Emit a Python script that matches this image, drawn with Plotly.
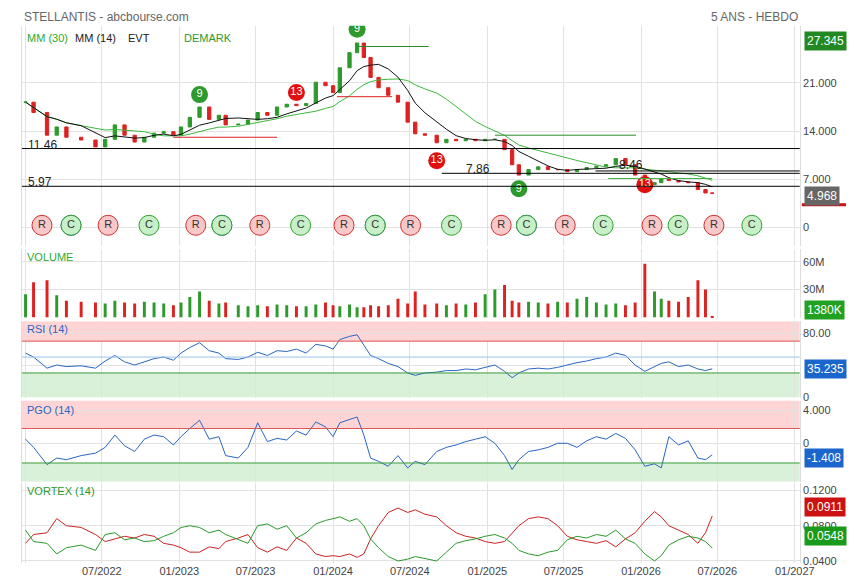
import plotly.graph_objects as go
import pandas as pd

dates = ["2022-01-01","2022-01-20","2022-02-21","2022-03-16","2022-04-08","2022-05-13","2022-06-16","2022-07-09","2022-08-01","2022-08-24","2022-09-17","2022-10-10","2022-11-02","2022-11-25","2022-12-18",
 "2023-01-05","2023-01-26","2023-02-18","2023-03-13","2023-04-05","2023-04-21","2023-05-21","2023-06-13","2023-07-06","2023-07-29","2023-08-21","2023-09-13","2023-10-06","2023-10-29","2023-11-21","2023-12-14",
 "2024-01-01","2024-01-17","2024-02-09","2024-02-27","2024-03-14","2024-03-30","2024-04-18","2024-05-11","2024-06-03","2024-06-26","2024-07-14","2024-08-06","2024-09-03","2024-09-26","2024-10-19","2024-11-11","2024-12-04","2024-12-27",
 "2025-01-19","2025-02-11","2025-03-01","2025-03-17","2025-04-09","2025-05-02","2025-05-25","2025-06-17","2025-07-10","2025-08-02","2025-08-25","2025-09-17","2025-10-10","2025-11-02","2025-11-25","2025-12-18",
 "2026-01-10","2026-02-02","2026-02-18","2026-03-08","2026-03-31","2026-04-23","2026-05-16","2026-06-03","2026-06-19"]
close = [18.2,16.7,13.4,14.6,13.1,12.7,11.7,12.8,14.9,13.4,12.4,13.1,13.7,13.9,13.4,
 14.6,16.0,17.5,15.7,16.3,14.9,15.0,15.6,16.7,16.3,17.5,17.9,17.7,18.0,21.1,20.6,
 19.6,23.2,25.4,26.8,24.7,21.8,20.3,19.2,18.2,15.3,13.6,13.4,12.3,12.8,12.6,12.8,12.6,12.8,
 12.8,11.3,9.1,7.6,8.4,8.8,8.4,8.4,8.1,8.4,8.7,8.9,9.1,10.0,9.1,7.6,
 6.2,6.5,7.1,6.8,6.6,6.5,5.5,5.0,4.968]
volume = [25,38,40,24,18,17,16,15,18,16,15,17,16,15,13,
 16,22,28,18,15,16,13,12,13,12,14,13,12,12,14,16,
 13,12,14,11,11,13,12,13,20,15,28,14,15,13,15,14,16,25,
 30,35,18,16,17,16,15,17,16,20,22,16,14,15,13,16,
 58,28,20,18,17,22,40,30,1.4]
rsi = [55,50,36,40,38,39,36,45,52,44,40,44,48,50,46,
 55,62,68,58,55,48,47,50,56,52,58,57,60,55,66,64,
 60,72,76,78,65,52,48,42,38,30,27,30,31,33,33,35,34,37,
 40,32,24,30,35,36,35,37,40,43,45,48,50,55,52,40,
 32,38,42,44,38,40,35,33,35.235]
pgo = [0.5,-0.5,-2.6,-1.8,-2.0,-1.5,-1.2,-0.5,1.0,-0.3,-1.0,0.5,1.0,0.8,-0.2,
 0.8,1.8,2.8,0.5,0.8,-1.5,-1.8,-0.5,2.5,0.2,0.6,0.4,1.5,1.0,2.6,2.0,
 0.8,2.5,2.9,3.2,1.0,-1.8,-2.2,-2.8,-1.5,-3.0,-2.2,-2.6,-1.0,-0.5,-0.2,0.2,0.5,0.8,
 0.0,-1.5,-3.2,-2.0,-1.0,-0.8,-0.5,0.0,0.0,-0.5,0.3,0.8,0.5,1.2,0.6,-0.8,
 -2.8,-2.5,-3.0,0.8,-0.2,0.3,-1.8,-2.0,-1.408]
vortex_red = [0.060,0.070,0.072,0.088,0.080,0.078,0.070,0.062,0.065,0.068,0.066,0.070,0.068,0.060,0.058,
 0.055,0.050,0.050,0.056,0.054,0.062,0.066,0.070,0.055,0.050,0.056,0.052,0.066,0.060,0.048,0.045,
 0.046,0.045,0.048,0.044,0.048,0.065,0.080,0.095,0.100,0.095,0.098,0.093,0.090,0.080,0.072,0.068,0.066,0.062,
 0.060,0.062,0.072,0.080,0.088,0.090,0.088,0.080,0.068,0.064,0.062,0.060,0.063,0.056,0.065,0.072,
 0.085,0.096,0.090,0.080,0.075,0.070,0.060,0.072,0.0911]
vortex_green = [0.075,0.062,0.060,0.048,0.055,0.058,0.052,0.070,0.072,0.064,0.066,0.062,0.063,0.068,0.072,
 0.078,0.080,0.078,0.072,0.075,0.070,0.064,0.060,0.080,0.082,0.076,0.080,0.066,0.072,0.082,0.086,
 0.088,0.090,0.085,0.088,0.080,0.065,0.055,0.045,0.040,0.042,0.045,0.043,0.040,0.050,0.060,0.063,0.065,0.068,
 0.070,0.066,0.060,0.052,0.048,0.046,0.050,0.052,0.064,0.068,0.066,0.070,0.068,0.075,0.065,0.060,
 0.048,0.040,0.046,0.058,0.064,0.068,0.066,0.062,0.0548]
event_dates = ["2022-02-09","2022-04-19","2022-07-16","2022-10-21","2023-02-09","2023-04-12","2023-07-11","2023-10-16",
 "2024-01-27","2024-04-10","2024-07-03","2024-10-08","2025-02-03","2025-04-04","2025-07-05","2025-10-03",
 "2026-01-27","2026-03-30","2026-06-23","2026-09-21"]
event_types = ["R","C","R","C","R","C","R","C","R","C","R","C","R","C","R","C","R","C","R","C"]
event_blue = [False,True,False,False,False,True,False,False,False,True,False,False,False,True,False,False,False,False,False,False]
demark_dates = ["2023-02-18","2024-02-27","2025-03-17","2023-10-06","2024-09-03","2026-01-10"]
demark_vals = [19.3,28.8,5.6,19.6,9.7,6.2]
demark_text = ["9","9","9","13","13","13"]
levels = [11.46, 5.97]

W, H = 855, 579
GREEN, RED = "#2e9a2e", "#dd2222"
opens = [close[0]] + close[:-1]
highs = [max(o, c) for o, c in zip(opens, close)]
lows = [min(o, c) for o, c in zip(opens, close)]
s = pd.Series(close)
mm14 = s.rolling(6, min_periods=1).mean()
mm30 = s.rolling(12, min_periods=1).mean()

def dom(top, bot):
    return [1 - bot / H, 1 - top / H]

xd = [14 / W, 806 / W]
fig = go.Figure()
panels = [("y", dom(18, 240), [-2.7, 29.3]), ("y2", dom(243, 313), [-1, 74]),
          ("y3", dom(316, 393), [-1, 95]), ("y4", dom(396, 478), [-4.7, 5.2]),
          ("y5", dom(479, 560), [0.0375, 0.1286])]

fig.add_trace(go.Candlestick(x=dates, open=opens, high=highs, low=lows, close=close,
    increasing=dict(line=dict(color=GREEN, width=1), fillcolor=GREEN),
    decreasing=dict(line=dict(color=RED, width=1), fillcolor=RED), yaxis="y", showlegend=False))
fig.add_trace(go.Scatter(x=dates, y=mm30, mode="lines", line=dict(color="#3cb83c", width=1), yaxis="y"))
fig.add_trace(go.Scatter(x=dates, y=mm14, mode="lines", line=dict(color="#111", width=1), yaxis="y"))
vcol = [GREEN if c >= o else RED for o, c in zip(opens, close)]
fig.add_trace(go.Bar(x=dates, y=volume, marker_color=vcol, marker_line_width=0, yaxis="y2", width=86400000 * 7))
fig.add_trace(go.Scatter(x=dates, y=rsi, mode="lines", line=dict(color="#2a66c0", width=1), yaxis="y3"))
fig.add_trace(go.Scatter(x=dates, y=pgo, mode="lines", line=dict(color="#2a66c0", width=1), yaxis="y4"))
fig.add_trace(go.Scatter(x=dates, y=vortex_red, mode="lines", line=dict(color="#cc2222", width=1), yaxis="y5"))
fig.add_trace(go.Scatter(x=dates, y=vortex_green, mode="lines", line=dict(color="#2a9a2a", width=1), yaxis="y5"))

bl = [d for d, b in zip(event_dates, event_blue) if b]
fig.add_trace(go.Scatter(x=bl, y=[0.3] * len(bl), mode="markers", yaxis="y",
    marker=dict(size=20, color="#c8d0f8", line=dict(color="#3040c0", width=1))))
fig.add_trace(go.Scatter(x=event_dates, y=[0.3] * len(event_dates), mode="markers+text", yaxis="y",
    text=event_types, textfont=dict(size=11, color="#333"),
    marker=dict(size=20, color=["#f8c8c8" if t == "R" else "#c8f0c8" for t in event_types],
                line=dict(color=["#d03030" if t == "R" else "#30a030" for t in event_types], width=1))))
fig.add_trace(go.Scatter(x=demark_dates, y=demark_vals, mode="markers+text", yaxis="y",
    text=demark_text, textfont=dict(size=11, color="white"),
    marker=dict(size=17, color=[GREEN, GREEN, GREEN, "#e01010", "#e01010", "#e01010"])))

lay = dict(width=W, height=H, margin=dict(l=0, r=0, t=0, b=0), showlegend=False,
           plot_bgcolor="white", paper_bgcolor="white", font=dict(family="Arial, Liberation Sans", size=11, color="#333"),
           xaxis=dict(domain=xd, type="date", range=["2021-12-23", "2027-01-13"], anchor="y5",
                      dtick="M6", tick0="2022-01-01", tickformat="%m/%Y", showgrid=True, gridcolor="#e2e2e2",
                      rangeslider=dict(visible=False), ticks="", tickfont=dict(size=11, color="#444"), showline=False))
for i, (name, d, r) in enumerate(panels):
    key = "yaxis" if i == 0 else "yaxis%d" % (i + 1)
    lay[key] = dict(domain=d, range=r, side="right", anchor="x", showgrid=True, gridcolor="#e2e2e2",
                    zeroline=False, tickfont=dict(size=11, color="#444"), ticks="", fixedrange=True,
                    showline=True, linecolor="#dddddd", mirror=True)
lay["yaxis"].update(tickvals=[0, 7, 14, 21], ticktext=["0", "7.000", "14.000", "21.000"])
lay["yaxis2"].update(tickvals=[0, 30, 60], ticktext=["", "30M", "60M"])
lay["yaxis3"].update(tickvals=[0, 40, 80], ticktext=["0", "", "80.00"])
lay["yaxis4"].update(tickvals=[0, 4], ticktext=["0", "4.000"])
lay["yaxis5"].update(tickvals=[0.04, 0.08, 0.12], ticktext=["0.0400", "0.0800", "0.1200"])
fig.update_layout(**lay)

def hline(y, yref, color, x0="2021-12-23", x1="2027-01-13", w=1):
    fig.add_shape(type="line", xref="x", yref=yref, x0=x0, x1=x1, y0=y, y1=y, line=dict(color=color, width=w))

def band(y0, y1, yref, color):
    fig.add_shape(type="rect", xref="x", yref=yref, x0="2021-12-23", x1="2027-01-13", y0=y0, y1=y1,
                  fillcolor=color, line_width=0, layer="below")

band(70, 95, "y3", "rgba(255,160,160,0.45)"); band(-1, 30, "y3", "rgba(160,220,160,0.4)")
hline(70, "y3", "#dd5555"); hline(30, "y3", "#3a9a3a"); hline(50, "y3", "#9cc4f0")
band(1.8, 5.2, "y4", "rgba(255,160,160,0.45)"); band(-4.7, -2.4, "y4", "rgba(160,220,160,0.4)")
hline(1.8, "y4", "#dd5555"); hline(-2.4, "y4", "#3a9a3a")
for lv in levels:
    hline(lv, "y", "black")
hline(7.86, "y", "black", x0="2024-09-15")
hline(8.2, "y", "black", x0="2025-09-15")
hline(7.1, "y", "#3cb83c", x0="2025-10-15", x1="2026-06-19")
hline(26.3, "y", "#2a8a2a", x0="2024-03-01", x1="2024-08-15")
hline(13.4, "y", "#2a8a2a", x0="2025-01-19", x1="2025-12-20")
hline(13.1, "y", "#dd2222", x0="2022-12-18", x1="2023-08-21")
hline(19.0, "y", "#dd2222", x0="2024-01-10", x1="2024-05-20")

ann = []
def txt(x, y, t, color="#333", size=11, xa="left", bg=None):
    a = dict(xref="paper", yref="paper", x=x / W, y=1 - y / H, text=t, showarrow=False, xanchor=xa,
             yanchor="middle", font=dict(size=size, color=color))
    if bg:
        a.update(bgcolor=bg, font=dict(size=size, color="white"), borderpad=2)
    ann.append(a)
txt(14, 9, "STELLANTIS - abcbourse.com", "#666", 12)
txt(806, 9, "5 ANS - HEBDO", "#666", 12, xa="right")
txt(17, 30, "MM (30)", "#2eaa2e"); txt(66, 30, "MM (14)", "#222"); txt(120, 30, "EVT", "#222"); txt(177, 30, "DEMARK", "#2e9a2e")
txt(18, 138, "11.46", "#222", 12); txt(18, 176, "5.97", "#222", 12); txt(464, 162, "7.86", "#222", 12); txt(620, 158, "8.46", "#222", 12)
txt(17, 251, "VOLUME", "#2eaa2e"); txt(17, 324, "RSI (14)", "#2a66c0"); txt(17, 405, "PGO (14)", "#2a66c0"); txt(17, 487, "VORTEX (14)", "#2e9a2e")
for y, t, c in [(33, "27.345", "#228822"), (190, "4.968", "#666666"), (305, "1380K", "#22a022"),
                (364, "35.235", "#1a66cc"), (454, "-1.408", "#1a66cc"), (503, "0.0911", "#cc1111"), (533, "0.0548", "#1a9a1a")]:
    txt(810, y, t, size=12, bg=c)
fig.update_layout(annotations=ann)
fig.add_shape(type="rect", xref="paper", yref="paper", x0=808 / W, x1=853 / W, y0=1 - 200 / H, y1=1 - 197 / H,
              fillcolor="#cc1111", line_width=0)
fig.write_html("out.html")
